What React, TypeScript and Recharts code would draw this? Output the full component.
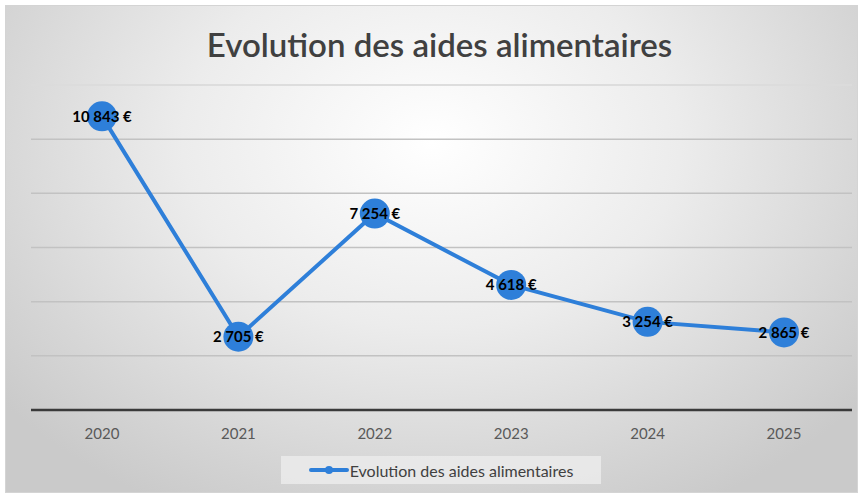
import { LineChart, Line, XAxis, YAxis, CartesianGrid, LabelList, ReferenceLine } from 'recharts';

const years = ['2020', '2021', '2022', '2023', '2024', '2025'];
const aides = [10843, 2705, 7254, 4618, 3254, 2865];
const yTicks = [0, 2000, 4000, 6000, 8000, 10000];
const yMax = 12000;

const chartTitle = 'Evolution des aides alimentaires';
const seriesName = 'Evolution des aides alimentaires';

const data = years.map((y, i) => ({ year: y, value: aides[i] }));

const BLUE = '#2e7fd9';
const FONT = 'Lato, "Open Sans", sans-serif';

const formatEuro = (v: number) =>
    String(v).replace(/\B(?=(\d{3})+(?!\d))/g, ' ') + ' €';

export default function App() {
    return (
        <div style={{ position: 'absolute', left: 0, top: 0, width: 863, height: 495, background: '#fff' }}>
            <div
                style={{
                    position: 'absolute',
                    left: 5,
                    top: 5,
                    width: 851,
                    height: 486,
                    border: '1px solid #d4d4d4',
                    background: 'radial-gradient(ellipse 65% 85% at 50% 28%, #ffffff 0%, #ececec 45%, #d6d6d6 80%, #cacaca 100%)',
                    fontFamily: FONT,
                }}
            >
                <div
                    style={{
                        position: 'absolute',
                        top: 18,
                        left: 16,
                        width: 835,
                        textAlign: 'center',
                        fontSize: 33,
                        color: '#404040',
                        fontWeight: 600,
                    }}
                >
                    {chartTitle}
                </div>
                <LineChart
                    width={851}
                    height={486}
                    data={data}
                    margin={{ top: 79, right: 5, left: 25, bottom: 0 }}
                >
                    <CartesianGrid vertical={false} stroke="#c2c2c2" strokeWidth={1.5} />
                    <YAxis hide domain={[0, yMax]} ticks={yTicks} />
                    <ReferenceLine y={yMax} stroke="#e2e2e2" strokeWidth={1.5} />
                    <XAxis
                        dataKey="year"
                        height={82}
                        padding={{ left: 71, right: 68 }}
                        tickLine={false}
                        axisLine={{ stroke: '#3a3a3a', strokeWidth: 2.5 }}
                        tick={{ fontSize: 15, fill: '#595959', fontFamily: FONT }}
                        tickMargin={12}
                    />
                    <Line
                        type="linear"
                        dataKey="value"
                        name={seriesName}
                        stroke={BLUE}
                        strokeWidth={4}
                        dot={{ r: 15, fill: BLUE, stroke: 'none' }}
                        activeDot={false}
                        isAnimationActive={false}
                    >
                        <LabelList
                            dataKey="value"
                            position="center"
                            formatter={(v: any) => formatEuro(Number(v))}
                            style={{ fontSize: 15, fontWeight: 700, fill: '#000', fontFamily: FONT }}
                        />
                    </Line>
                </LineChart>
                <div
                    style={{
                        position: 'absolute',
                        left: 275,
                        top: 450,
                        width: 320,
                        height: 28,
                        background: 'rgba(235,235,235,0.85)',
                        display: 'flex',
                        alignItems: 'center',
                        justifyContent: 'center',
                        fontSize: 16,
                        color: '#404040',
                    }}
                >
                    <svg width={40} height={12} style={{ marginRight: 1 }}>
                        <line x1={2} y1={6} x2={38} y2={6} stroke={BLUE} strokeWidth={4} strokeLinecap="round" />
                        <circle cx={20} cy={6} r={4} fill={BLUE} />
                    </svg>
                    <span>{seriesName}</span>
                </div>
            </div>
        </div>
    );
}
